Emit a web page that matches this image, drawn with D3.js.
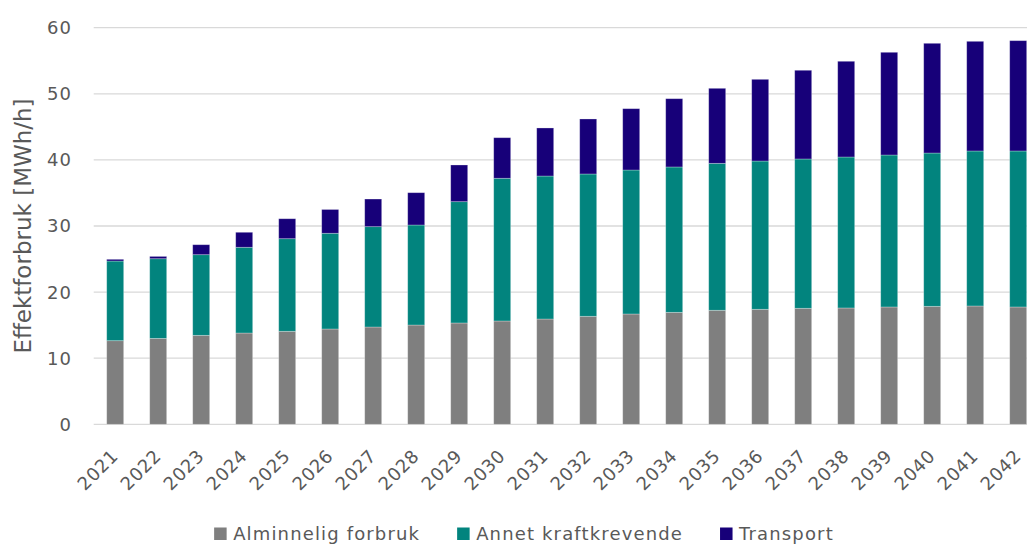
<!DOCTYPE html>
<html>
<head>
<meta charset="utf-8">
<script src="https://cdn.jsdelivr.net/npm/d3@7"></script>
<style>
  html, body { margin: 0; padding: 0; background: #fff; overflow: hidden; }
  svg { display: block; }
  text { font-family: "DejaVu Sans", sans-serif; fill: #595959; }
</style>
</head>
<body>
<svg id="chart" width="1027" height="545"></svg>
<script>
const years = ["2021","2022","2023","2024","2025","2026","2027","2028","2029","2030","2031","2032","2033","2034","2035","2036","2037","2038","2039","2040","2041","2042"];
const seriesNames = ["Alminnelig forbruk", "Annet kraftkrevende", "Transport"];
const alminnelig = [12.65, 13.0, 13.46, 13.81, 14.07, 14.42, 14.72, 15.02, 15.33, 15.63, 15.93, 16.34, 16.69, 16.94, 17.25, 17.4, 17.55, 17.6, 17.75, 17.85, 17.9, 17.75];
const annet = [12.05, 12.05, 12.2, 12.97, 14.01, 14.48, 15.18, 15.13, 18.35, 21.59, 21.63, 21.53, 21.78, 21.99, 22.23, 22.43, 22.59, 22.84, 22.99, 23.19, 23.45, 23.6];
const transport = [0.26, 0.35, 1.51, 2.27, 3.02, 3.6, 4.18, 4.89, 5.55, 6.14, 7.27, 8.32, 9.28, 10.33, 11.35, 12.36, 13.42, 14.48, 15.54, 16.6, 16.59, 16.69];
const yTicks = [0, 10, 20, 30, 40, 50, 60];
const colors = ["#7f7f7f", "#02847e", "#170079"];
const yTitle = "Effektforbruk [MWh/h]";

const svg = d3.select("#chart");
const plotLeft = 93.7, step = 43, plotTop = 27.7, plotBottom = 424.3;

const table = years.map((yr, i) => ({year: yr, a: alminnelig[i], b: annet[i], c: transport[i]}));
const stack = d3.stack().keys(["a", "b", "c"]);
const layers = stack(table);

const x = d3.scaleBand().domain(years)
  .range([plotLeft, plotLeft + step * years.length])
  .paddingInner(0.605).paddingOuter(0.3025);
const y = d3.scaleLinear().domain([0, 60]).range([plotBottom, plotTop]);

// gridlines
svg.append("g").selectAll("line").data(yTicks).join("line")
  .attr("x1", plotLeft).attr("x2", 1027)
  .attr("y1", d => y(d)).attr("y2", d => y(d))
  .attr("stroke", "#d9d9d9").attr("stroke-width", 1.3);

// y tick labels
svg.append("g").selectAll("text").data(yTicks).join("text")
  .attr("x", 72).attr("y", d => y(d)).attr("dy", "0.36em")
  .attr("text-anchor", "end")
  .style("font-size", "18px").style("letter-spacing", "1px")
  .text(d => d);

// bars
svg.append("g").selectAll("g").data(layers).join("g")
  .attr("fill", (d, i) => colors[i])
  .selectAll("rect").data(d => d).join("rect")
  .attr("x", d => x(d.data.year))
  .attr("width", x.bandwidth())
  .attr("y", d => y(d[1]))
  .attr("height", d => y(d[0]) - y(d[1]))
  .attr("stroke", "rgba(255,255,255,0.35)")
  .attr("stroke-width", 0.8);

// x tick labels
svg.append("g").selectAll("text").data(years).join("text")
  .attr("transform", d => `translate(${x(d) + x.bandwidth() / 2 + 4},${plotBottom + 33}) rotate(-45)`)
  .attr("text-anchor", "end")
  .style("font-size", "18px").style("letter-spacing", "0.6px")
  .text(d => d);

// y title
svg.append("text")
  .attr("transform", `translate(31,${(plotTop + plotBottom) / 2}) rotate(-90)`)
  .attr("text-anchor", "middle")
  .style("font-size", "23px")
  .text(yTitle);

// legend
const lg = svg.append("g");
const items = seriesNames.map((name, i) => {
  const g = lg.append("g");
  g.append("rect").attr("x", 0).attr("y", -12.5).attr("width", 12.5).attr("height", 12.5).attr("fill", colors[i]);
  const t = g.append("text").attr("x", 19).attr("y", 0)
    .style("font-size", "18px").style("letter-spacing", "1.15px").text(name);
  return {g, w: 19 + t.node().getComputedTextLength()};
});
const gap = 37;
const total = d3.sum(items, d => d.w) + gap * (items.length - 1);
let cx = 524 - total / 2;
items.forEach(it => {
  it.g.attr("transform", `translate(${cx},540)`);
  cx += it.w + gap;
});
</script>
</body>
</html>
